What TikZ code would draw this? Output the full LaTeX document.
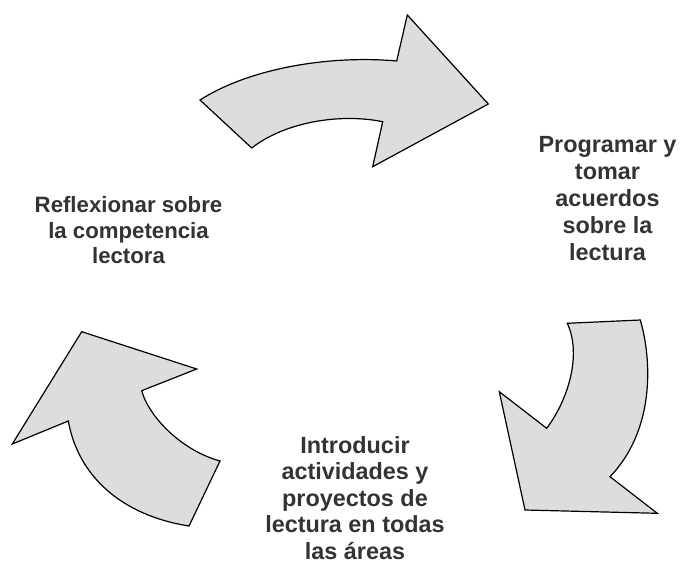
\documentclass[tikz,border=0pt]{standalone}
\usepackage{fontspec}
\setmainfont{Liberation Sans}
\definecolor{arrowfill}{RGB}{221,221,221}
\definecolor{txt}{RGB}{51,51,51}
\begin{document}
\begin{tikzpicture}[x=1pt,y=-1pt,
  bigarrow/.style={draw=black,fill=arrowfill,line width=1.2pt,line join=miter},
  label/.style={align=center,text=txt,inner sep=0pt,anchor=base}]
\useasboundingbox (0,0) rectangle (680,562);
% top arrow
\path[bigarrow] (200,100) -- (251.7,148) .. controls (285,122) and (340,113) .. (382.7,121.7)
  -- (372.7,166.7) -- (488.3,104) -- (407.3,15) -- (396.7,61)
  .. controls (330,55) and (250,68) .. (200,100) -- cycle;
% right arrow
\path[bigarrow] (567.3,323.3) -- (640.3,320) .. controls (652,360) and (655,430) .. (610,476.7)
  -- (657.3,513.3) -- (525,510) -- (499.3,391.7) -- (546.7,428.3)
  .. controls (568,400) and (582,355) .. (567.3,323.3) -- cycle;
% left arrow
\path[bigarrow] (81.7,331.7) -- (196.7,369) -- (141.7,390.7) .. controls (148,415) and (180,450) .. (220,461)
  -- (189,526) .. controls (120,515) and (78,475) .. (68.3,421) -- (12.3,444) -- cycle;
% labels (anchored at the baseline of their last line)
\node[label,font=\bfseries\fontsize{23.4}{27}\selectfont] (t1) at (607.5,260)
  {Programar y\\tomar\\acuerdos\\sobre la\\lectura};
\node[label,font=\bfseries\fontsize{22.2}{25.4}\selectfont] (t2) at (128.5,263.5)
  {Reflexionar sobre\\la competencia\\lectora};
\node[label,font=\bfseries\fontsize{23.4}{26.5}\selectfont] (t3) at (355,559.3)
  {Introducir\\actividades y\\proyectos de\\lectura en todas\\las áreas};
\end{tikzpicture}
\end{document}
